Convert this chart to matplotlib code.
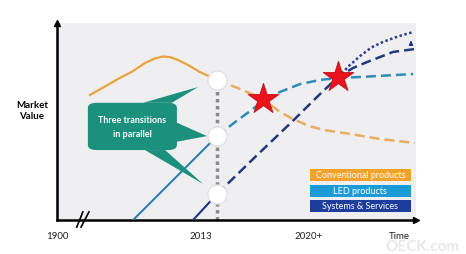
import matplotlib.pyplot as plt
from matplotlib.patches import FancyBboxPatch, Polygon, Rectangle

plt.rcParams['font.family'] = ['Lato', 'DejaVu Sans']

# curves (x: time axis 0-100, y: market value 0-100)
conv_x = [9.2, 13.1, 17, 21.2, 24.5, 27.3, 29.5, 31.5, 33.7, 36.5, 39.8, 44.6]
conv_y = [63.5, 67.5, 71.6, 75.6, 79.7, 82, 83, 82.7, 81.2, 78.7, 75.1, 71.1]
conv_fx = [44.6, 51, 57.4, 62, 65.7, 70.5, 75, 81.6, 90, 99.7]
conv_fy = [71.1, 66.5, 61.4, 55, 51.3, 47.5, 45.5, 43.7, 41.1, 39.1]

led_x = [21.2, 44.6]
led_y = [0, 42.6]
led_fx = [44.6, 49.6, 53.8, 57.4, 62.1, 67.7, 73.3, 78.3, 84.4, 99.2]
led_fy = [42.6, 49.7, 55.3, 60.4, 65, 69, 71.1, 72.1, 72.6, 74.1]

sys_x = [37.9, 44.6]
sys_y = [0, 13.2]
sys_fx = [44.6, 55.2, 65.7, 73.3, 78.3, 82.5, 86.4, 93.6, 99.7]
sys_fy = [13.2, 32, 50.3, 64, 72.6, 77.2, 80.2, 85.3, 86.8]
sys_up_x = [78.3, 81.5, 84.4, 87.5, 90.8, 95, 99.2]
sys_up_y = [72.6, 78.5, 83.2, 87.5, 90.4, 93.2, 95.4]

now_x = 44.6
circle_y = [71.1, 42.6, 13.2]
star_x = [57.4, 78.3]
star_y = [61.4, 72.6]

tick_pos = [0, 40, 70.2, 95.5]
tick_lab = ['1900', '2013', '2020+', 'Time']

legend_lab = ['Conventional products', 'LED products', 'Systems & Services']
legend_col = ['#f0a22a', '#1c9bd6', '#1c3d9c']

fig = plt.figure(figsize=(4.66, 2.55), dpi=100)
ax = fig.add_axes([57/466, 34/255, 359/466, 197/255])
ax.set_facecolor('#efeff1')
ax.set_xlim(0, 100)
ax.set_ylim(0, 100)
for s in ['top', 'right']:
    ax.spines[s].set_visible(False)
for s in ['left', 'bottom']:
    ax.spines[s].set_linewidth(1.8)
ax.plot([0], [100], marker='^', color='black', markersize=4, clip_on=False)
ax.plot([100], [0], marker='>', color='black', markersize=4, clip_on=False)
ax.set_yticks([])
ax.set_xticks(tick_pos)
ax.set_xticklabels(tick_lab, fontsize=7, color='#222222')
ax.tick_params(axis='x', length=0, pad=8)

# break mark on the time axis
ax.plot([5.5, 7.2], [-3.6, 4.1], color='black', lw=1.2, clip_on=False)
ax.plot([6.7, 8.9], [-3.6, 4.1], color='black', lw=1.2, clip_on=False)

fig.text(32/466, 1 - 111/255, 'Market\nValue', ha='center', va='center',
         fontsize=7, fontweight='bold', linespacing=1.3)

# vertical "today" line
ax.plot([now_x, now_x], [0, circle_y[0]], color='#8a8a8a', lw=2.5,
        linestyle=(0, (1, 1)), zorder=2)

# curves
ax.plot(conv_x, conv_y, color='#eba23c', lw=1.6, zorder=3)
ax.plot(conv_fx, conv_fy, color='#e8ad62', lw=1.8, dashes=(4, 2), zorder=3)
ax.plot(led_x, led_y, color='#2d7fb3', lw=1.5, zorder=3)
ax.plot(led_fx, led_fy, color='#2b8db8', lw=1.8, dashes=(4, 2), zorder=3)
ax.plot(sys_x, sys_y, color='#1f3385', lw=1.5, zorder=3)
ax.plot(sys_fx, sys_fy, color='#22397a', lw=1.8, dashes=(4, 2), zorder=3)
ax.plot(sys_up_x, sys_up_y, color='#2a3f8a', lw=1.8, dashes=(1, 1), zorder=3)
ax.annotate('', xy=(98.6, 92.5), xytext=(98.6, 88),
            arrowprops=dict(arrowstyle='-|>', color='#1f3385', lw=1.2,
                            mutation_scale=5))

ax.scatter([now_x] * 3, circle_y, s=190, color='white', edgecolor='#dddddd',
           linewidth=0.8, zorder=5)
ax.scatter(star_x, star_y, s=540, marker='*', color='#e8131b',
           edgecolor='#c01018', linewidth=0.6, zorder=6)

# callout
teal = '#1b907d'
ax.add_patch(FancyBboxPatch((9.6, 36.5), 22.8, 22, boxstyle='round,pad=1,rounding_size=2.5',
                            facecolor=teal, edgecolor='none', zorder=4))
ax.add_patch(Polygon([(24, 59.5), (32, 59.5), (39.3, 67.5)], closed=True,
                     facecolor=teal, edgecolor='none', zorder=4))
ax.add_patch(Polygon([(33, 49.7), (33, 39.6), (41.8, 42.6)], closed=True,
                     facecolor=teal, edgecolor='none', zorder=4))
ax.add_patch(Polygon([(24.5, 35.5), (30.1, 35.5), (40.7, 18.3)], closed=True,
                     facecolor=teal, edgecolor='none', zorder=4))
ax.text(21, 47.5, 'Three transitions\nin parallel', color='white', fontsize=6.5,
        fontweight='bold', ha='center', va='center', linespacing=1.6, zorder=5)

# legend boxes
box_top = [25.9, 17.8, 10.2]
for lab, col, top in zip(legend_lab, legend_col, box_top):
    ax.add_patch(Rectangle((70.5, top - 5.9), 28.1, 5.9, facecolor=col,
                           edgecolor='none', zorder=4))
    ax.text(84.5, top - 2.95, lab, color='white', fontsize=6.5, ha='center',
            va='center', zorder=5)

# faint watermark, kept just below the "Time" label
fig.text(422/466, 1 - 247/255, 'OECK.com', color='#e4e4e4', fontsize=11,
         fontweight='bold', ha='center', va='center', alpha=0.85)

fig.savefig('out.png', dpi=100)
